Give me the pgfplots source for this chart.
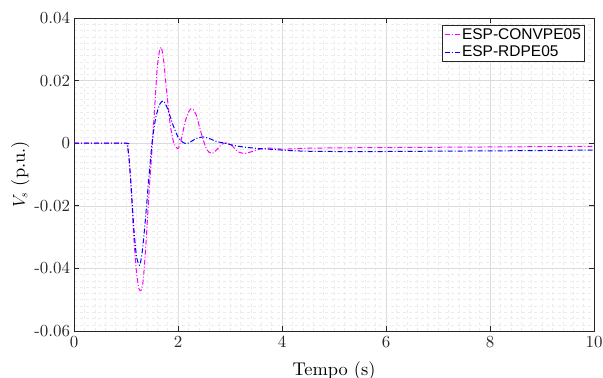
\documentclass[border=0pt]{standalone}
\usepackage{pgfplots}
\pgfplotsset{compat=1.18}
\usepackage{fontspec}
\setmainfont{lmroman10-regular}[Extension=.otf, ItalicFont=lmroman10-italic, BoldFont=lmroman10-bold]
\newfontfamily\legfont{Liberation Sans}
\definecolor{axgray}{gray}{0.15}
\definecolor{mymag}{rgb}{1,0,1}
\definecolor{myblue}{rgb}{0,0,1}
\begin{document}
\begin{tikzpicture}
\path[use as bounding box] (0,0) rectangle (603bp,378bp);
\begin{axis}[
  at={(74bp,47bp)}, anchor=south west,
  scale only axis, width=520bp, height=313bp,
  xmin=0, xmax=10, ymin=-0.06, ymax=0.04,
  xtick={0,2,...,10},
  ytick={-0.06,-0.04,-0.02,0,0.02,0.04},
  yticklabels={-0.06,-0.04,-0.02,0,0.02,0.04},
  xticklabels={0,2,4,6,8,10},
  scaled y ticks=false,
  minor x tick num=9, minor y tick num=9,
  grid=both,
  major grid style={gray!28, line width=0.5pt},
  minor grid style={gray!15, dashed, line width=0.4pt},
  axis line style={axgray, line width=0.6pt},
  tick style={axgray, line width=0.6pt},
  tick align=inside,
  major tick length=5bp, minor tick length=0pt,
  tick label style={font=\fontsize{16.9bp}{19bp}\selectfont, text=axgray},
  xticklabel style={yshift=-2bp},
  yticklabel style={xshift=-0.5bp},
  xlabel={Tempo (s)}, ylabel={$V_s$ (p.u.)},
  every axis label/.append style={font=\fontsize{18.4bp}{21bp}\selectfont},
  xlabel style={yshift=-7bp},
  ylabel style={yshift=-2bp},
  legend style={at={(0.982,0.978)}, anchor=north east, font=\legfont\fontsize{15.5bp}{17bp}\selectfont, draw=axgray, line width=0.5pt, row sep=1bp, inner sep=1.5bp},
  legend cell align=left,
  legend image code/.code={\draw[#1] (0bp,0bp) -- (15bp,0bp);},
]
\addplot[color=mymag, draw=mymag, dash pattern=on 5bp off 2bp on 1bp off 2bp, line width=1pt, smooth, tension=0.4] coordinates {
(0,0) (1.0,0) (1.03,-0.001) (1.06,-0.005) (1.1,-0.015) (1.15,-0.030) (1.2,-0.041) (1.25,-0.0465) (1.29,-0.047) (1.33,-0.044) (1.38,-0.033) (1.45,-0.014) (1.5,-0.002) (1.55,0.011) (1.6,0.024) (1.65,0.0300) (1.68,0.0305) (1.72,0.027) (1.78,0.017) (1.85,0.006) (1.92,0.0) (2.0,-0.0017) (2.06,0.001) (2.14,0.007) (2.22,0.0105) (2.28,0.011) (2.35,0.009) (2.45,0.003) (2.55,-0.002) (2.65,-0.0033) (2.75,-0.002) (2.85,-0.0003) (2.94,0.0001) (3.05,-0.001) (3.15,-0.0027) (3.29,-0.0033) (3.45,-0.0025) (3.63,-0.0017) (3.8,-0.0016) (4.0,-0.0019) (4.2,-0.0018) (4.5,-0.0016) (5,-0.0015) (6,-0.0014) (7,-0.0013) (8,-0.0012) (9,-0.0011) (10,-0.001)
};
\addlegendentry{ESP-CONVPE05}
\addplot[color=myblue, draw=myblue, dash pattern=on 5bp off 2bp on 1bp off 2bp, line width=1pt, smooth, tension=0.4] coordinates {
(0,0) (1.0,0) (1.03,-0.001) (1.06,-0.005) (1.1,-0.014) (1.15,-0.027) (1.2,-0.036) (1.26,-0.039) (1.31,-0.035) (1.37,-0.025) (1.43,-0.013) (1.5,0.0) (1.57,0.008) (1.65,0.0125) (1.72,0.0135) (1.8,0.011) (1.9,0.006) (2.0,0.002) (2.1,0.0002) (2.17,-0.0001) (2.25,0.0005) (2.35,0.0015) (2.48,0.002) (2.6,0.0015) (2.75,0.0005) (2.9,0.0) (3.1,-0.0008) (3.3,-0.0013) (3.55,-0.0017) (3.83,-0.002) (4.2,-0.0024) (4.6,-0.0026) (5.5,-0.0027) (6.5,-0.0026) (7.5,-0.0025) (8.5,-0.0024) (10,-0.0022)
};
\addlegendentry{ESP-RDPE05}
\end{axis}
\end{tikzpicture}
\end{document}
